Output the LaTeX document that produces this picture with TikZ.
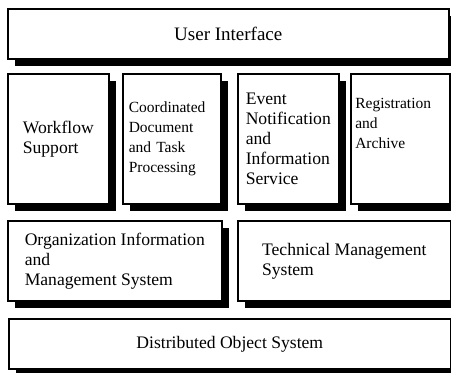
\documentclass[tikz,border=0pt]{standalone}
\usepackage{fontspec}
\setmainfont{Liberation Serif}
\usetikzlibrary{positioning,shadows}

\begin{document}
\begin{tikzpicture}
		[x=1pt,y=-1pt,
		layer/.style={draw,line width=1.6pt,fill=white,anchor=north west,align=left,inner sep=0pt,
			font=\fontsize{17.6}{20}\selectfont,
			drop shadow={shadow xshift=7pt,shadow yshift=-7pt,fill=black,opacity=1}},
		small/.style={font=\fontsize{15.5}{20}\selectfont},
		large/.style={font=\fontsize{19}{22}\selectfont}]
		\useasboundingbox (0,0) rectangle (451,373);
		% top layer
		\node[layer,large,minimum width=441pt,minimum height=50pt] (ui) at (7,8) {User Interface};
		% services
		\node[layer,minimum width=101pt,minimum height=130pt] (wf) at (7,73) {Workflow\\Support};
		\node[layer,small,text width=86pt,minimum width=98pt,minimum height=130pt] (cd) at (122,73) {Coordinated\\Document\\and Task\\Processing};
		\node[layer,minimum width=101pt,minimum height=130pt] (ev) at (237,73) {Event\\Notification\\and\\Information\\Service};
		\node[layer,small,text width=90pt,minimum width=99pt,minimum height=130pt,text depth=70pt] (ra) at (350,73) {Registration\\and\\Archive};
		% management
		\node[layer,minimum width=214pt,minimum height=80pt] (oim) at (7,220) {Organization Information\\and\\Management System};
		\node[layer,minimum width=213pt,minimum height=80pt] (tms) at (237,220) {Technical Management\\System};
		% base
		\node[layer,minimum width=442pt,minimum height=50pt] (dos) at (8,318) {Distributed Object System};
\end{tikzpicture}
\end{document}
